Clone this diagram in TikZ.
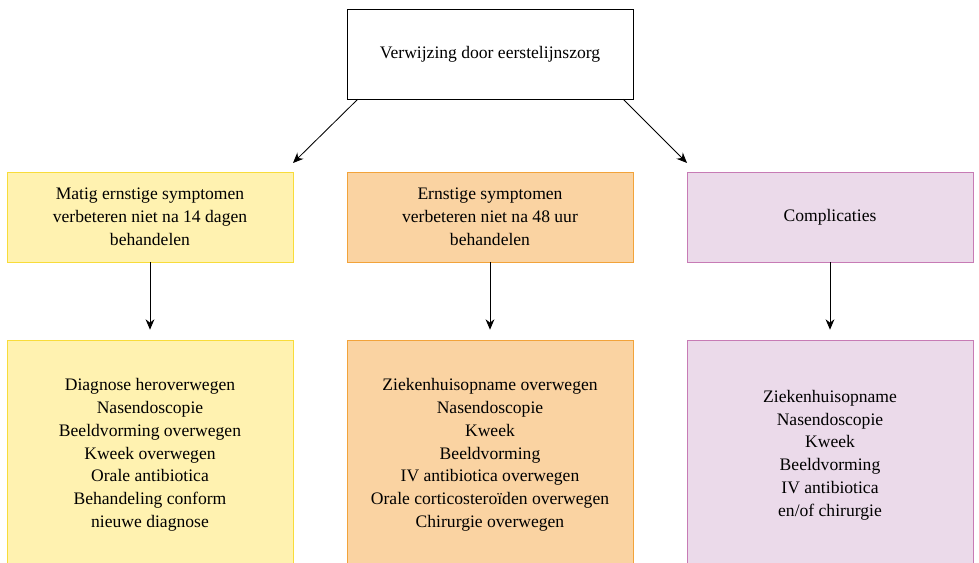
\documentclass[tikz,border=0pt]{standalone}
\usepackage{fontspec}
\setmainfont{Liberation Serif}
\usepackage{tikz}
\usetikzlibrary{arrows,arrows.meta,calc,positioning}
\definecolor{geelvul}{HTML}{FFF2B0}
\definecolor{geelrand}{HTML}{F8DC3A}
\definecolor{oranjevul}{HTML}{FAD3A2}
\definecolor{oranjerand}{HTML}{F2A33A}
\definecolor{paarsvul}{HTML}{EBDAEA}
\definecolor{paarsrand}{HTML}{C77BB5}
\tikzset{
  doos/.style={draw,rectangle,align=center,minimum width=7.15cm,minimum height=2.25cm,inner sep=0pt,font=\fontsize{12.5}{16.2}\selectfont},
  groot/.style={doos,minimum height=5.75cm},
  geel/.style={fill=geelvul,draw=geelrand},
  oranje/.style={fill=oranjevul,draw=oranjerand},
  paars/.style={fill=paarsvul,draw=paarsrand},
  pijl/.style={-{Stealth[length=2.6mm,width=2.2mm]},black,semithick}
}
\begin{document}
\begin{tikzpicture}[x=0.025cm,y=-0.025cm]
\useasboundingbox (0,0) rectangle (979,563);
\node[doos,fill=white] (verwijzing) at (490,54) {Verwijzing door eerstelijnszorg};
\node[doos,geel] (matig) at (150,217) {Matig ernstige symptomen\\verbeteren niet na 14 dagen\\behandelen};
\node[doos,oranje] (ernstig) at (490,217) {Ernstige symptomen\\verbeteren niet na 48 uur\\behandelen};
\node[doos,paars] (compl) at (830,217) {Complicaties};
\node[groot,geel] (matigb) at (150,455) {Diagnose heroverwegen\\Nasendoscopie\\Beeldvorming overwegen\\Kweek overwegen\\Orale antibiotica\\Behandeling conform\\nieuwe diagnose};
\node[groot,oranje] (ernstigb) at (490,455) {Ziekenhuisopname overwegen\\Nasendoscopie\\Kweek\\Beeldvorming\\IV antibiotica overwegen\\Orale corticostero\"iden overwegen\\Chirurgie overwegen};
\node[groot,paars] (complb) at (830,455) {Ziekenhuisopname\\Nasendoscopie\\Kweek\\Beeldvorming\\IV antibiotica\\en/of chirurgie};
\coordinate (links) at (293,163);
\coordinate (rechts) at (687,163);
\draw[pijl] ([xshift=0.275cm]verwijzing.south west) -- (links);
\draw[pijl] ([xshift=-0.25cm]verwijzing.south east) -- (rechts);
\draw[pijl,shorten >=0.25cm] (matig) -- (matigb);
\draw[pijl,shorten >=0.25cm] (ernstig) -- (ernstigb);
\draw[pijl,shorten >=0.25cm] (compl) -- (complb);
\end{tikzpicture}
\end{document}
